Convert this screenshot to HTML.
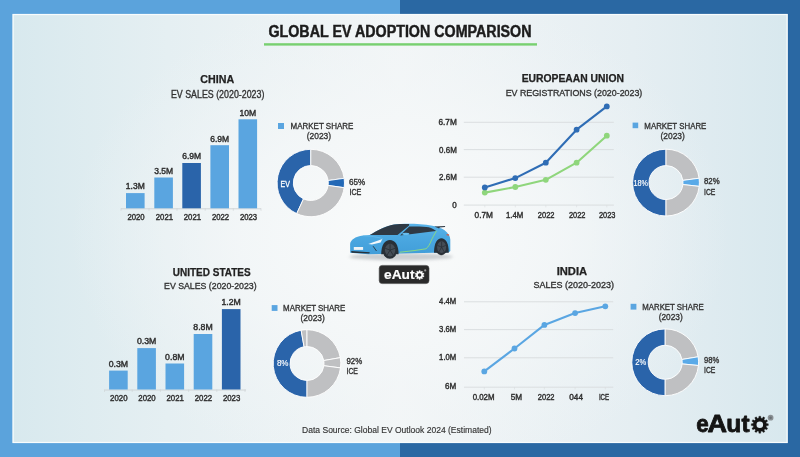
<!DOCTYPE html>
<html><head><meta charset="utf-8"><style>
html,body{margin:0;padding:0;width:800px;height:457px;overflow:hidden;background:#fff}
svg{display:block;font-family:"Liberation Sans", sans-serif;will-change:transform}
</style></head><body>
<svg width="800" height="457" viewBox="0 0 800 457">
<defs><filter id="blur2" x="-20%" y="-200%" width="140%" height="500%"><feGaussianBlur stdDeviation="1.5"/></filter>
<linearGradient id="bgL" x1="0" y1="0" x2="1" y2="0">
<stop offset="0" stop-color="#d8e9ee"/><stop offset="0.2" stop-color="#e5eff2"/><stop offset="0.5" stop-color="#f3f6f7"/><stop offset="0.8" stop-color="#e5eef2"/><stop offset="1" stop-color="#d8e8ee"/>
</linearGradient>
<radialGradient id="bgR" cx="400" cy="235" r="330" gradientUnits="userSpaceOnUse" gradientTransform="translate(400 235) scale(1 0.75) translate(-400 -235)">
<stop offset="0" stop-color="#fafbfb" stop-opacity="1"/><stop offset="0.5" stop-color="#f4f7f8" stop-opacity="0.8"/><stop offset="1" stop-color="#eef3f5" stop-opacity="0"/>
</radialGradient>
</defs>
<rect x="0" y="0" width="400" height="457" fill="#5ba3dc"/>
<rect x="400" y="0" width="400" height="457" fill="#2a68a3"/>
<rect x="12.6" y="14" width="775" height="429" fill="url(#bgL)"/>
<rect x="12.6" y="14" width="775" height="429" fill="url(#bgR)"/>
<rect x="13.1" y="14.5" width="774" height="428" fill="none" stroke="#f8fcfd" stroke-width="1.2" opacity="1"/>
<rect x="788.2" y="14" width="1" height="429" fill="#2160a0" opacity="0.6"/>
<g id="car">
<defs><linearGradient id="carG" x1="0" y1="223" x2="0" y2="255" gradientUnits="userSpaceOnUse"><stop offset="0" stop-color="#5ab4ea"/><stop offset="0.45" stop-color="#4ba8e1"/><stop offset="1" stop-color="#419dd8"/></linearGradient></defs>
<ellipse cx="401" cy="256.8" rx="52" ry="3.6" fill="#bfc3c6" opacity="0.8" filter="url(#blur2)"/>
<path d="M350.2,252.8 L350.1,244 C350.5,240 355,236.5 363,235.5 L369.8,235 C377,230.5 385,226 394,224.4 C405,223.4 420,223.5 432.4,225.8 C437,226.8 441,228 444.3,230 C448,233 450.3,236 450.3,239.5 L450.3,251 C449.5,252.2 447.5,252.6 445,252.6 L368.3,254.2 Z" fill="url(#carG)"/>
<path d="M369.8,235.1 C377,230.6 385,226.2 394,224.5 C400,223.9 405,223.9 409.2,224.0 L408.9,225.7 L397.5,234.9 C388,234.9 378,235 369.8,235.1 Z" fill="#2f3944"/>
<path d="M400.1,235.4 L409.3,226.6 C417,226.4 425,226.6 428.7,227.2 C432,228.2 434.6,229.5 436.1,230.9 C424,232.4 412,234 400.1,235.4 Z" fill="#2f3944"/>
<path d="M434.2,226.5 L445.2,225.9 L444.9,227 L439.8,227.5 L439,228.6 L438,228 Z" fill="#2f3944"/>
<path d="M363,235.7 C370,236 377,237 383,238.6" fill="none" stroke="#6cc0ee" stroke-width="0.6"/>
<path d="M368.3,244.1 L382.4,239.1 L380.6,242.4 L372,244.5 Z" fill="#f4f8fb"/>
<path d="M446.6,234.1 L449.1,234.5 L449.1,235.7 L446.6,235.3 Z" fill="#e2553a"/>
<rect x="353.8" y="247" width="9.3" height="2.9" fill="#eef3f6"/>
<path d="M351.2,250.9 L369.8,252.2 L369.3,253.5 L351.5,252.7 Z" fill="#27313a"/>
<path d="M373.1,246.2 L376.5,251" fill="none" stroke="#27313a" stroke-width="0.9"/>
<ellipse cx="405.8" cy="233.9" rx="3.5" ry="1.1" fill="#66bcee"/>
<path d="M436.5,230.9 C434,235 432.5,238 431.5,240 C430,244 428,247.5 426,248.8 L414,250.6 L400,252.2" fill="none" stroke="#90de7a" stroke-width="0.9"/>
<path d="M381.2,254.3 C381.2,245 385,240.1 389.85,240.1 C395,240.1 398.6,245 398.6,254.3 Z" fill="#27313a"/>
<path d="M434,252.7 C434,243 437.5,238.3 441.35,238.3 C445.5,238.3 448.8,243 448.8,252.7 Z" fill="#27313a"/>
<ellipse cx="389.85" cy="250.1" rx="7.25" ry="8.6" fill="#2a3037"/>
<ellipse cx="390.1" cy="250.1" rx="5.2" ry="6.3" fill="#454d56"/>
<path d="M390.1,250.1 L390.1,244.2 M390.1,250.1 L395,248.3 M390.1,250.1 L393.3,255.3 M390.1,250.1 L386.9,255.3 M390.1,250.1 L385.2,248.3" stroke="#2a3037" stroke-width="0.9"/>
<ellipse cx="441.35" cy="247.15" rx="6.25" ry="8.05" fill="#2a3037"/>
<ellipse cx="441.6" cy="247.15" rx="4.5" ry="5.9" fill="#454d56"/>
<path d="M441.6,247.15 L441.6,241.6 M441.6,247.15 L445.8,245.4 M441.6,247.15 L444.3,252.1 M441.6,247.15 L438.9,252.1 M441.6,247.15 L437.4,245.4" stroke="#2a3037" stroke-width="0.8"/>
</g><g id="badge">
<rect x="379.2" y="265.4" width="49.8" height="18.2" rx="3" ry="3" fill="#2a2a2a" stroke="#4a4a4a" stroke-width="0.6"/>
<text x="384" y="279.3" font-size="13.2" font-weight="bold" fill="#ffffff" stroke="#ffffff" stroke-width="0.2" textLength="30.5" lengthAdjust="spacingAndGlyphs">eAut</text>
<path d="M418.92,271.57 L419.02,270.44 L420.18,270.44 L420.28,271.57 L420.68,271.67 L421.07,271.82 L421.82,270.97 L422.75,271.65 L422.17,272.62 L422.43,272.94 L422.65,273.29 L423.76,273.04 L424.12,274.14 L423.08,274.59 L423.10,275.00 L423.08,275.41 L424.12,275.86 L423.76,276.96 L422.65,276.71 L422.43,277.06 L422.17,277.38 L422.75,278.35 L421.82,279.03 L421.07,278.18 L420.68,278.33 L420.28,278.43 L420.18,279.56 L419.02,279.56 L418.92,278.43 L418.52,278.33 L418.13,278.18 L417.38,279.03 L416.45,278.35 L417.03,277.38 L416.77,277.06 L416.55,276.71 L415.44,276.96 L415.08,275.86 L416.12,275.41 L416.10,275.00 L416.12,274.59 L415.08,274.14 L415.44,273.04 L416.55,273.29 L416.77,272.94 L417.03,272.62 L416.45,271.65 L417.38,270.97 L418.13,271.82 L418.52,271.67 Z" fill="#ffffff" stroke="#ffffff" stroke-width="0.3" stroke-linejoin="round"/><circle cx="419.6" cy="275.0" r="1.8" fill="#2a2a2a"/>
<circle cx="425.2" cy="270.4" r="1.1" fill="#9a9a9a"/>
</g>
<g id="logo">
<text transform="translate(696.17 431.8) scale(0.921 1)" x="0" y="0" font-size="24.4" font-weight="bold" fill="#141414" stroke="#141414" stroke-width="0.8" stroke-linejoin="round">e</text><text transform="translate(707.48 431.8) scale(1.109 1)" x="0" y="0" font-size="24.4" font-weight="bold" fill="#141414" stroke="#141414" stroke-width="0.8" stroke-linejoin="round">A</text><text transform="translate(726.17 431.8) scale(1.010 1)" x="0" y="0" font-size="24.4" font-weight="bold" fill="#141414" stroke="#141414" stroke-width="0.8" stroke-linejoin="round">u</text><text transform="translate(741.60 431.8) scale(0.996 1)" x="0" y="0" font-size="24.4" font-weight="bold" fill="#141414" stroke="#141414" stroke-width="0.8" stroke-linejoin="round">t</text>
<path d="M758.71,418.09 L758.90,416.15 L760.70,416.15 L760.89,418.09 L761.53,418.23 L762.16,418.43 L763.30,416.84 L764.85,417.74 L764.05,419.52 L764.54,419.96 L764.98,420.45 L766.76,419.65 L767.66,421.20 L766.07,422.34 L766.27,422.97 L766.41,423.61 L768.35,423.80 L768.35,425.60 L766.41,425.79 L766.27,426.43 L766.07,427.06 L767.66,428.20 L766.76,429.75 L764.98,428.95 L764.54,429.44 L764.05,429.88 L764.85,431.66 L763.30,432.56 L762.16,430.97 L761.53,431.17 L760.89,431.31 L760.70,433.25 L758.90,433.25 L758.71,431.31 L758.07,431.17 L757.44,430.97 L756.30,432.56 L754.75,431.66 L755.55,429.88 L755.06,429.44 L754.62,428.95 L752.84,429.75 L751.94,428.20 L753.53,427.06 L753.33,426.43 L753.19,425.79 L751.25,425.60 L751.25,423.80 L753.19,423.61 L753.33,422.97 L753.53,422.34 L751.94,421.20 L752.84,419.65 L754.62,420.45 L755.06,419.96 L755.55,419.52 L754.75,417.74 L756.30,416.84 L757.44,418.43 L758.07,418.23 Z" fill="#141414" stroke="#141414" stroke-width="0.3" stroke-linejoin="round"/><circle cx="759.8" cy="424.7" r="3.3" fill="#dde9ef"/>
<circle cx="770.6" cy="417.7" r="2.9" fill="#8a9094"/>
<circle cx="770.6" cy="417.7" r="1.3" fill="#6a7074"/>
</g>
<text x="268.44" y="36.60" font-size="15.91" font-weight="bold" fill="#1c1c1c" text-anchor="start" textLength="263.11" lengthAdjust="spacingAndGlyphs" stroke="#1c1c1c" stroke-width="0.45">GLOBAL EV ADOPTION COMPARISON</text><rect x="264" y="43.2" width="273" height="2.4" fill="#78d070"/><text x="200.34" y="83.20" font-size="10.43" font-weight="bold" fill="#222" text-anchor="start" textLength="33.83" lengthAdjust="spacingAndGlyphs" stroke="#222" stroke-width="0.25">CHINA</text><text x="170.94" y="97.80" font-size="10.43" font-weight="normal" fill="#333" text-anchor="start" textLength="93.43" lengthAdjust="spacingAndGlyphs" stroke="#333" stroke-width="0.35">EV SALES (2020-2023)</text><line x1="121" y1="208.8" x2="261" y2="208.8" stroke="#cdd1d4" stroke-width="0.9"/><line x1="121" y1="208.3" x2="121" y2="210.8" stroke="#cdd1d4" stroke-width="0.6"/><line x1="149" y1="208.3" x2="149" y2="210.8" stroke="#cdd1d4" stroke-width="0.6"/><line x1="177" y1="208.3" x2="177" y2="210.8" stroke="#cdd1d4" stroke-width="0.6"/><line x1="205.2" y1="208.3" x2="205.2" y2="210.8" stroke="#cdd1d4" stroke-width="0.6"/><line x1="233.3" y1="208.3" x2="233.3" y2="210.8" stroke="#cdd1d4" stroke-width="0.6"/><line x1="261" y1="208.3" x2="261" y2="210.8" stroke="#cdd1d4" stroke-width="0.6"/><rect x="126" y="193.1" width="18.6" height="15.200000000000017" fill="#5aa5e0"/><text x="125.86" y="189.40" font-size="8.2" font-weight="normal" fill="#2f2f2f" text-anchor="start" textLength="18.87" lengthAdjust="spacingAndGlyphs" stroke="#2f2f2f" stroke-width="0.4">1.3M</text><text x="127.51" y="219.70" font-size="8.2" font-weight="normal" fill="#2f2f2f" text-anchor="start" textLength="17.17" lengthAdjust="spacingAndGlyphs" stroke="#2f2f2f" stroke-width="0.4">2020</text><rect x="154.3" y="177.5" width="18.6" height="30.80000000000001" fill="#5aa5e0"/><text x="154.16" y="173.80" font-size="8.2" font-weight="normal" fill="#2f2f2f" text-anchor="start" textLength="18.87" lengthAdjust="spacingAndGlyphs" stroke="#2f2f2f" stroke-width="0.4">3.5M</text><text x="155.81" y="219.70" font-size="8.2" font-weight="normal" fill="#2f2f2f" text-anchor="start" textLength="17.17" lengthAdjust="spacingAndGlyphs" stroke="#2f2f2f" stroke-width="0.4">2021</text><rect x="182.3" y="163.0" width="18.6" height="45.30000000000001" fill="#2a64aa"/><text x="182.16" y="159.30" font-size="8.2" font-weight="normal" fill="#2f2f2f" text-anchor="start" textLength="18.87" lengthAdjust="spacingAndGlyphs" stroke="#2f2f2f" stroke-width="0.4">6.9M</text><text x="183.81" y="219.70" font-size="8.2" font-weight="normal" fill="#2f2f2f" text-anchor="start" textLength="17.17" lengthAdjust="spacingAndGlyphs" stroke="#2f2f2f" stroke-width="0.4">2021</text><rect x="210.4" y="145.2" width="18.6" height="63.10000000000002" fill="#5aa5e0"/><text x="210.26" y="141.50" font-size="8.2" font-weight="normal" fill="#2f2f2f" text-anchor="start" textLength="18.87" lengthAdjust="spacingAndGlyphs" stroke="#2f2f2f" stroke-width="0.4">6.9M</text><text x="211.91" y="219.70" font-size="8.2" font-weight="normal" fill="#2f2f2f" text-anchor="start" textLength="17.17" lengthAdjust="spacingAndGlyphs" stroke="#2f2f2f" stroke-width="0.4">2022</text><rect x="238.5" y="119.3" width="18.6" height="89.00000000000001" fill="#5aa5e0"/><text x="239.41" y="115.60" font-size="8.2" font-weight="normal" fill="#2f2f2f" text-anchor="start" textLength="16.77" lengthAdjust="spacingAndGlyphs" stroke="#2f2f2f" stroke-width="0.4">10M</text><text x="240.01" y="219.70" font-size="8.2" font-weight="normal" fill="#2f2f2f" text-anchor="start" textLength="17.17" lengthAdjust="spacingAndGlyphs" stroke="#2f2f2f" stroke-width="0.4">2023</text><rect x="278" y="123" width="6" height="6" fill="#5aa5e0"/><text x="290.56" y="129.00" font-size="9.60" font-weight="normal" fill="#333" text-anchor="start" textLength="62.77" lengthAdjust="spacingAndGlyphs" stroke="#333" stroke-width="0.35">MARKET SHARE</text><text x="306.76" y="139.40" font-size="9.60" font-weight="normal" fill="#333" text-anchor="start" textLength="24.37" lengthAdjust="spacingAndGlyphs" stroke="#333" stroke-width="0.35">(2023)</text><path d="M296.72,213.62 A33.7,33.7 0 0 1 310.80,149.30 L310.80,165.50 A17.5,17.5 0 0 0 303.49,198.90 Z" fill="#2a64aa" stroke="#ffffff" stroke-width="0.9" stroke-linejoin="round"/><path d="M310.80,149.30 A33.7,33.7 0 0 1 344.17,178.31 L328.13,180.56 A17.5,17.5 0 0 0 310.80,165.50 Z" fill="#bfc0c2" stroke="#ffffff" stroke-width="0.9" stroke-linejoin="round"/><path d="M344.17,178.31 A33.7,33.7 0 0 1 344.17,187.69 L328.13,185.44 A17.5,17.5 0 0 0 328.13,180.56 Z" fill="#2268b6" stroke="#ffffff" stroke-width="0.9" stroke-linejoin="round"/><path d="M344.17,187.69 A33.7,33.7 0 0 1 296.72,213.62 L303.49,198.90 A17.5,17.5 0 0 0 328.13,185.44 Z" fill="#bfc0c2" stroke="#ffffff" stroke-width="0.9" stroke-linejoin="round"/><text x="280.61" y="187.00" font-size="8.23" font-weight="normal" fill="#fff" text-anchor="start" textLength="9.28" lengthAdjust="spacingAndGlyphs" stroke="#fff" stroke-width="0.3">EV</text><text x="349.11" y="184.50" font-size="8.37" font-weight="normal" fill="#333" text-anchor="start" textLength="16.19" lengthAdjust="spacingAndGlyphs" stroke="#333" stroke-width="0.35">65%</text><text x="349.41" y="194.60" font-size="8.37" font-weight="normal" fill="#333" text-anchor="start" textLength="11.89" lengthAdjust="spacingAndGlyphs" stroke="#333" stroke-width="0.35">ICE</text><text x="521.64" y="82.40" font-size="10.43" font-weight="bold" fill="#222" text-anchor="start" textLength="102.33" lengthAdjust="spacingAndGlyphs" stroke="#222" stroke-width="0.25">EUROPEAAN UNION</text><text x="505.65" y="95.90" font-size="9.88" font-weight="normal" fill="#333" text-anchor="start" textLength="136.69" lengthAdjust="spacingAndGlyphs" stroke="#333" stroke-width="0.35">EV REGISTRATIONS (2020-2023)</text><line x1="463.8" y1="122.3" x2="613.8" y2="122.3" stroke="#d8dbde" stroke-width="0.9"/><text x="438.51" y="125.30" font-size="8.2" font-weight="normal" fill="#2f2f2f" text-anchor="start" textLength="18.27" lengthAdjust="spacingAndGlyphs" stroke="#2f2f2f" stroke-width="0.4">6.7M</text><line x1="463.8" y1="149.6" x2="613.8" y2="149.6" stroke="#d8dbde" stroke-width="0.9"/><text x="439.11" y="152.60" font-size="8.2" font-weight="normal" fill="#2f2f2f" text-anchor="start" textLength="17.67" lengthAdjust="spacingAndGlyphs" stroke="#2f2f2f" stroke-width="0.4">0.6M</text><line x1="463.8" y1="177.2" x2="613.8" y2="177.2" stroke="#d8dbde" stroke-width="0.9"/><text x="439.11" y="180.20" font-size="8.2" font-weight="normal" fill="#2f2f2f" text-anchor="start" textLength="17.67" lengthAdjust="spacingAndGlyphs" stroke="#2f2f2f" stroke-width="0.4">2.6M</text><line x1="463.8" y1="205.1" x2="613.8" y2="205.1" stroke="#d8dbde" stroke-width="0.9"/><text x="452.31" y="208.10" font-size="8.2" font-weight="normal" fill="#2f2f2f" text-anchor="start" textLength="4.47" lengthAdjust="spacingAndGlyphs" stroke="#2f2f2f" stroke-width="0.4">0</text><line x1="484.8" y1="205.1" x2="484.8" y2="207.3" stroke="#d8dbde" stroke-width="0.6"/><line x1="515.3" y1="205.1" x2="515.3" y2="207.3" stroke="#d8dbde" stroke-width="0.6"/><line x1="545.8" y1="205.1" x2="545.8" y2="207.3" stroke="#d8dbde" stroke-width="0.6"/><line x1="576.6" y1="205.1" x2="576.6" y2="207.3" stroke="#d8dbde" stroke-width="0.6"/><line x1="606.8" y1="205.1" x2="606.8" y2="207.3" stroke="#d8dbde" stroke-width="0.6"/><text x="474.61" y="217.70" font-size="8.2" font-weight="normal" fill="#2f2f2f" text-anchor="start" textLength="18.37" lengthAdjust="spacingAndGlyphs" stroke="#2f2f2f" stroke-width="0.4">0.7M</text><text x="505.91" y="217.70" font-size="8.2" font-weight="normal" fill="#2f2f2f" text-anchor="start" textLength="17.27" lengthAdjust="spacingAndGlyphs" stroke="#2f2f2f" stroke-width="0.4">1.4M</text><text x="537.81" y="217.70" font-size="8.2" font-weight="normal" fill="#2f2f2f" text-anchor="start" textLength="16.67" lengthAdjust="spacingAndGlyphs" stroke="#2f2f2f" stroke-width="0.4">2022</text><text x="568.91" y="217.70" font-size="8.2" font-weight="normal" fill="#2f2f2f" text-anchor="start" textLength="16.47" lengthAdjust="spacingAndGlyphs" stroke="#2f2f2f" stroke-width="0.4">2022</text><text x="598.91" y="217.70" font-size="8.2" font-weight="normal" fill="#2f2f2f" text-anchor="start" textLength="16.47" lengthAdjust="spacingAndGlyphs" stroke="#2f2f2f" stroke-width="0.4">2023</text><polyline points="484.8,192.6 515.3,187.0 545.8,179.8 576.6,162.7 606.8,135.7" fill="none" stroke="#8fd67c" stroke-width="2.1" stroke-linejoin="round"/><circle cx="484.8" cy="192.6" r="2.9" fill="#8fd67c"/><circle cx="515.3" cy="187.0" r="2.9" fill="#8fd67c"/><circle cx="545.8" cy="179.8" r="2.9" fill="#8fd67c"/><circle cx="576.6" cy="162.7" r="2.9" fill="#8fd67c"/><circle cx="606.8" cy="135.7" r="2.9" fill="#8fd67c"/><polyline points="484.8,187.4 515.3,178.1 545.8,162.7 576.6,129.7 606.8,106.4" fill="none" stroke="#2f6db5" stroke-width="2.1" stroke-linejoin="round"/><circle cx="484.8" cy="187.4" r="2.9" fill="#2f6db5"/><circle cx="515.3" cy="178.1" r="2.9" fill="#2f6db5"/><circle cx="545.8" cy="162.7" r="2.9" fill="#2f6db5"/><circle cx="576.6" cy="129.7" r="2.9" fill="#2f6db5"/><circle cx="606.8" cy="106.4" r="2.9" fill="#2f6db5"/><rect x="632.6" y="122.6" width="5.6" height="5.6" fill="#5aa5e0"/><text x="644.36" y="128.50" font-size="9.60" font-weight="normal" fill="#333" text-anchor="start" textLength="61.97" lengthAdjust="spacingAndGlyphs" stroke="#333" stroke-width="0.35">MARKET SHARE</text><text x="660.46" y="139.10" font-size="9.60" font-weight="normal" fill="#333" text-anchor="start" textLength="24.37" lengthAdjust="spacingAndGlyphs" stroke="#333" stroke-width="0.35">(2023)</text><path d="M666.00,216.00 A33.4,33.4 0 0 1 666.00,149.20 L666.00,165.60 A17,17 0 0 0 666.00,199.60 Z" fill="#2a64aa" stroke="#ffffff" stroke-width="0.9" stroke-linejoin="round"/><path d="M666.00,149.20 A33.4,33.4 0 0 1 699.11,178.24 L682.85,180.38 A17,17 0 0 0 666.00,165.60 Z" fill="#bfc0c2" stroke="#ffffff" stroke-width="0.9" stroke-linejoin="round"/><path d="M699.11,178.24 A33.4,33.4 0 0 1 699.19,186.38 L682.89,184.52 A17,17 0 0 0 682.85,180.38 Z" fill="#5aaae8" stroke="#ffffff" stroke-width="0.9" stroke-linejoin="round"/><path d="M699.19,186.38 A33.4,33.4 0 0 1 666.00,216.00 L666.00,199.60 A17,17 0 0 0 682.89,184.52 Z" fill="#bfc0c2" stroke="#ffffff" stroke-width="0.9" stroke-linejoin="round"/><text x="633.51" y="186.00" font-size="8.23" font-weight="normal" fill="#fff" text-anchor="start" textLength="14.48" lengthAdjust="spacingAndGlyphs" stroke="#fff" stroke-width="0.15">18%</text><text x="704.01" y="184.20" font-size="8.37" font-weight="normal" fill="#333" text-anchor="start" textLength="15.69" lengthAdjust="spacingAndGlyphs" stroke="#333" stroke-width="0.35">82%</text><text x="704.01" y="195.00" font-size="8.23" font-weight="normal" fill="#333" text-anchor="start" textLength="11.28" lengthAdjust="spacingAndGlyphs" stroke="#333" stroke-width="0.35">ICE</text><text x="172.74" y="275.60" font-size="10.29" font-weight="bold" fill="#222" text-anchor="start" textLength="77.92" lengthAdjust="spacingAndGlyphs" stroke="#222" stroke-width="0.25">UNITED STATES</text><text x="164.05" y="289.20" font-size="9.88" font-weight="normal" fill="#333" text-anchor="start" textLength="92.59" lengthAdjust="spacingAndGlyphs" stroke="#333" stroke-width="0.35">EV SALES (2020-2023)</text><line x1="104.5" y1="390.0" x2="246" y2="390.0" stroke="#cdd1d4" stroke-width="0.9"/><line x1="104.5" y1="389.5" x2="104.5" y2="392.0" stroke="#cdd1d4" stroke-width="0.6"/><line x1="132.2" y1="389.5" x2="132.2" y2="392.0" stroke="#cdd1d4" stroke-width="0.6"/><line x1="160.4" y1="389.5" x2="160.4" y2="392.0" stroke="#cdd1d4" stroke-width="0.6"/><line x1="188.6" y1="389.5" x2="188.6" y2="392.0" stroke="#cdd1d4" stroke-width="0.6"/><line x1="216.8" y1="389.5" x2="216.8" y2="392.0" stroke="#cdd1d4" stroke-width="0.6"/><line x1="245" y1="389.5" x2="245" y2="392.0" stroke="#cdd1d4" stroke-width="0.6"/><rect x="109.1" y="370.6" width="18.6" height="18.899999999999977" fill="#5aa5e0"/><text x="108.71" y="366.80" font-size="8.2" font-weight="normal" fill="#2f2f2f" text-anchor="start" textLength="19.37" lengthAdjust="spacingAndGlyphs" stroke="#2f2f2f" stroke-width="0.4">0.3M</text><text x="110.11" y="401.00" font-size="8.2" font-weight="normal" fill="#2f2f2f" text-anchor="start" textLength="17.37" lengthAdjust="spacingAndGlyphs" stroke="#2f2f2f" stroke-width="0.4">2020</text><rect x="137.3" y="348.1" width="18.6" height="41.39999999999998" fill="#5aa5e0"/><text x="136.91" y="344.30" font-size="8.2" font-weight="normal" fill="#2f2f2f" text-anchor="start" textLength="19.37" lengthAdjust="spacingAndGlyphs" stroke="#2f2f2f" stroke-width="0.4">0.3M</text><text x="138.31" y="401.00" font-size="8.2" font-weight="normal" fill="#2f2f2f" text-anchor="start" textLength="17.37" lengthAdjust="spacingAndGlyphs" stroke="#2f2f2f" stroke-width="0.4">2020</text><rect x="165.5" y="363.5" width="18.6" height="26.0" fill="#5aa5e0"/><text x="165.11" y="359.70" font-size="8.2" font-weight="normal" fill="#2f2f2f" text-anchor="start" textLength="19.37" lengthAdjust="spacingAndGlyphs" stroke="#2f2f2f" stroke-width="0.4">0.8M</text><text x="166.51" y="401.00" font-size="8.2" font-weight="normal" fill="#2f2f2f" text-anchor="start" textLength="17.37" lengthAdjust="spacingAndGlyphs" stroke="#2f2f2f" stroke-width="0.4">2021</text><rect x="193.7" y="334.0" width="18.6" height="55.5" fill="#5aa5e0"/><text x="193.31" y="330.20" font-size="8.2" font-weight="normal" fill="#2f2f2f" text-anchor="start" textLength="19.37" lengthAdjust="spacingAndGlyphs" stroke="#2f2f2f" stroke-width="0.4">8.8M</text><text x="194.71" y="401.00" font-size="8.2" font-weight="normal" fill="#2f2f2f" text-anchor="start" textLength="17.37" lengthAdjust="spacingAndGlyphs" stroke="#2f2f2f" stroke-width="0.4">2022</text><rect x="221.9" y="309.1" width="18.6" height="80.39999999999998" fill="#2a64aa"/><text x="221.51" y="305.30" font-size="8.2" font-weight="normal" fill="#2f2f2f" text-anchor="start" textLength="19.37" lengthAdjust="spacingAndGlyphs" stroke="#2f2f2f" stroke-width="0.4">1.2M</text><text x="222.91" y="401.00" font-size="8.2" font-weight="normal" fill="#2f2f2f" text-anchor="start" textLength="17.37" lengthAdjust="spacingAndGlyphs" stroke="#2f2f2f" stroke-width="0.4">2023</text><rect x="271.7" y="305.1" width="5.8" height="5.8" fill="#5aa5e0"/><text x="283.06" y="311.10" font-size="9.60" font-weight="normal" fill="#333" text-anchor="start" textLength="62.27" lengthAdjust="spacingAndGlyphs" stroke="#333" stroke-width="0.35">MARKET SHARE</text><text x="300.46" y="321.20" font-size="9.60" font-weight="normal" fill="#333" text-anchor="start" textLength="24.37" lengthAdjust="spacingAndGlyphs" stroke="#333" stroke-width="0.35">(2023)</text><path d="M307.00,397.30 A33.8,33.8 0 0 1 301.13,330.21 L304.05,346.76 A17,17 0 0 0 307.00,380.50 Z" fill="#2a64aa" stroke="#ffffff" stroke-width="0.9" stroke-linejoin="round"/><path d="M301.13,330.21 A33.8,33.8 0 0 1 307.00,329.70 L307.00,346.50 A17,17 0 0 0 304.05,346.76 Z" fill="#bfc0c2" stroke="#ffffff" stroke-width="0.9" stroke-linejoin="round"/><path d="M307.00,329.70 A33.8,33.8 0 0 1 340.29,357.63 L323.74,360.55 A17,17 0 0 0 307.00,346.50 Z" fill="#bfc0c2" stroke="#ffffff" stroke-width="0.9" stroke-linejoin="round"/><path d="M340.29,357.63 A33.8,33.8 0 0 1 340.51,367.91 L323.85,365.72 A17,17 0 0 0 323.74,360.55 Z" fill="#bfc0c2" stroke="#ffffff" stroke-width="0.9" stroke-linejoin="round"/><path d="M340.51,367.91 A33.8,33.8 0 0 1 307.00,397.30 L307.00,380.50 A17,17 0 0 0 323.85,365.72 Z" fill="#bfc0c2" stroke="#ffffff" stroke-width="0.9" stroke-linejoin="round"/><text x="276.90" y="366.40" font-size="8.50" font-weight="normal" fill="#fff" text-anchor="start" textLength="11.60" lengthAdjust="spacingAndGlyphs" stroke="#fff" stroke-width="0.15">8%</text><text x="346.50" y="363.90" font-size="8.50" font-weight="normal" fill="#333" text-anchor="start" textLength="15.70" lengthAdjust="spacingAndGlyphs" stroke="#333" stroke-width="0.35">92%</text><text x="346.51" y="374.10" font-size="8.23" font-weight="normal" fill="#333" text-anchor="start" textLength="11.38" lengthAdjust="spacingAndGlyphs" stroke="#333" stroke-width="0.35">ICE</text><text x="556.65" y="274.80" font-size="10.01" font-weight="bold" fill="#222" text-anchor="start" textLength="30.50" lengthAdjust="spacingAndGlyphs" stroke="#222" stroke-width="0.25">INDIA</text><text x="533.56" y="287.70" font-size="9.60" font-weight="normal" fill="#333" text-anchor="start" textLength="80.57" lengthAdjust="spacingAndGlyphs" stroke="#333" stroke-width="0.35">SALES (2020-2023)</text><line x1="464" y1="301.8" x2="613.2" y2="301.8" stroke="#d8dbde" stroke-width="0.9"/><text x="439.11" y="303.90" font-size="8.2" font-weight="normal" fill="#2f2f2f" text-anchor="start" textLength="17.07" lengthAdjust="spacingAndGlyphs" stroke="#2f2f2f" stroke-width="0.4">4.4M</text><line x1="464" y1="329.6" x2="613.2" y2="329.6" stroke="#d8dbde" stroke-width="0.9"/><text x="439.11" y="331.70" font-size="8.2" font-weight="normal" fill="#2f2f2f" text-anchor="start" textLength="17.07" lengthAdjust="spacingAndGlyphs" stroke="#2f2f2f" stroke-width="0.4">3.6M</text><line x1="464" y1="357.8" x2="613.2" y2="357.8" stroke="#d8dbde" stroke-width="0.9"/><text x="439.11" y="359.90" font-size="8.2" font-weight="normal" fill="#2f2f2f" text-anchor="start" textLength="17.07" lengthAdjust="spacingAndGlyphs" stroke="#2f2f2f" stroke-width="0.4">1.0M</text><line x1="464" y1="387.2" x2="613.2" y2="387.2" stroke="#d8dbde" stroke-width="0.9"/><text x="445.01" y="389.30" font-size="8.2" font-weight="normal" fill="#2f2f2f" text-anchor="start" textLength="11.17" lengthAdjust="spacingAndGlyphs" stroke="#2f2f2f" stroke-width="0.4">6M</text><line x1="484.3" y1="387.2" x2="484.3" y2="389.4" stroke="#d8dbde" stroke-width="0.6"/><line x1="514.5" y1="387.2" x2="514.5" y2="389.4" stroke="#d8dbde" stroke-width="0.6"/><line x1="544.4" y1="387.2" x2="544.4" y2="389.4" stroke="#d8dbde" stroke-width="0.6"/><line x1="575.1" y1="387.2" x2="575.1" y2="389.4" stroke="#d8dbde" stroke-width="0.6"/><line x1="605.3" y1="387.2" x2="605.3" y2="389.4" stroke="#d8dbde" stroke-width="0.6"/><text x="472.71" y="399.60" font-size="8.2" font-weight="normal" fill="#2f2f2f" text-anchor="start" textLength="21.77" lengthAdjust="spacingAndGlyphs" stroke="#2f2f2f" stroke-width="0.4">0.02M</text><text x="510.81" y="399.60" font-size="8.2" font-weight="normal" fill="#2f2f2f" text-anchor="start" textLength="11.37" lengthAdjust="spacingAndGlyphs" stroke="#2f2f2f" stroke-width="0.4">5M</text><text x="537.81" y="399.60" font-size="8.2" font-weight="normal" fill="#2f2f2f" text-anchor="start" textLength="16.67" lengthAdjust="spacingAndGlyphs" stroke="#2f2f2f" stroke-width="0.4">2022</text><text x="569.31" y="399.60" font-size="8.2" font-weight="normal" fill="#2f2f2f" text-anchor="start" textLength="13.67" lengthAdjust="spacingAndGlyphs" stroke="#2f2f2f" stroke-width="0.4">044</text><text x="598.91" y="399.60" font-size="8.2" font-weight="normal" fill="#2f2f2f" text-anchor="start" textLength="10.27" lengthAdjust="spacingAndGlyphs" stroke="#2f2f2f" stroke-width="0.4">ICE</text><polyline points="484.3,371.4 514.5,348.5 544.4,324.9 575.1,313.1 605.3,306.3" fill="none" stroke="#5aa6e2" stroke-width="2.1" stroke-linejoin="round"/><circle cx="484.3" cy="371.4" r="2.9" fill="#5aa6e2"/><circle cx="514.5" cy="348.5" r="2.9" fill="#5aa6e2"/><circle cx="544.4" cy="324.9" r="2.9" fill="#5aa6e2"/><circle cx="575.1" cy="313.1" r="2.9" fill="#5aa6e2"/><circle cx="605.3" cy="306.3" r="2.9" fill="#5aa6e2"/><rect x="630.6" y="303.8" width="5.8" height="5.8" fill="#5aa5e0"/><text x="642.26" y="309.80" font-size="9.60" font-weight="normal" fill="#333" text-anchor="start" textLength="61.57" lengthAdjust="spacingAndGlyphs" stroke="#333" stroke-width="0.35">MARKET SHARE</text><text x="658.66" y="320.40" font-size="9.60" font-weight="normal" fill="#333" text-anchor="start" textLength="24.07" lengthAdjust="spacingAndGlyphs" stroke="#333" stroke-width="0.35">(2023)</text><path d="M665.20,395.70 A33.4,33.4 0 0 1 665.20,328.90 L665.20,345.30 A17,17 0 0 0 665.20,379.30 Z" fill="#2a64aa" stroke="#ffffff" stroke-width="0.9" stroke-linejoin="round"/><path d="M665.20,328.90 A33.4,33.4 0 0 1 698.14,356.79 L681.97,359.49 A17,17 0 0 0 665.20,345.30 Z" fill="#bfc0c2" stroke="#ffffff" stroke-width="0.9" stroke-linejoin="round"/><path d="M698.14,356.79 A33.4,33.4 0 0 1 698.45,365.50 L682.12,363.93 A17,17 0 0 0 681.97,359.49 Z" fill="#5aaae8" stroke="#ffffff" stroke-width="0.9" stroke-linejoin="round"/><path d="M698.45,365.50 A33.4,33.4 0 0 1 665.20,395.70 L665.20,379.30 A17,17 0 0 0 682.12,363.93 Z" fill="#bfc0c2" stroke="#ffffff" stroke-width="0.9" stroke-linejoin="round"/><text x="635.31" y="365.20" font-size="8.23" font-weight="normal" fill="#fff" text-anchor="start" textLength="10.98" lengthAdjust="spacingAndGlyphs" stroke="#fff" stroke-width="0.15">2%</text><text x="704.00" y="363.00" font-size="8.50" font-weight="normal" fill="#333" text-anchor="start" textLength="15.20" lengthAdjust="spacingAndGlyphs" stroke="#333" stroke-width="0.35">98%</text><text x="704.01" y="373.00" font-size="8.23" font-weight="normal" fill="#333" text-anchor="start" textLength="11.28" lengthAdjust="spacingAndGlyphs" stroke="#333" stroke-width="0.35">ICE</text><text x="302.07" y="432.60" font-size="9.47" font-weight="normal" fill="#333" text-anchor="start" textLength="189.56" lengthAdjust="spacingAndGlyphs" stroke="#333" stroke-width="0.15">Data Source: Global EV Outlook 2024 (Estimated)</text>
</svg>
</body></html>
